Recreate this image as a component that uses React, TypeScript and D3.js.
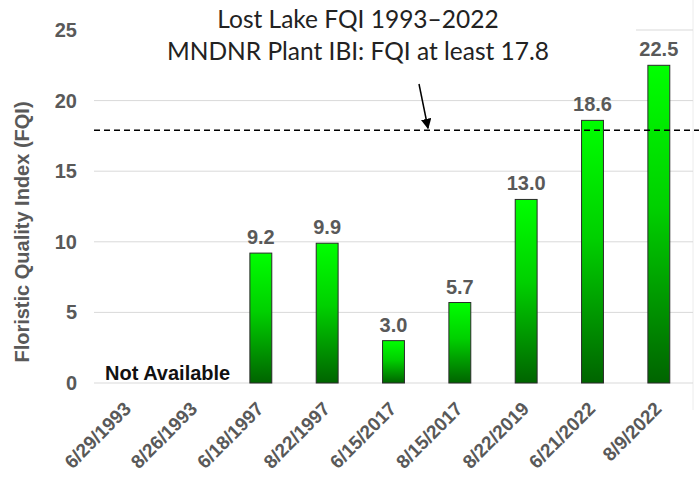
import React from "react";
import * as d3 from "d3";

const categories = ["6/29/1993", "8/26/1993", "6/18/1997", "8/22/1997", "6/15/2017", "8/15/2017", "8/22/2019", "6/21/2022", "8/9/2022"];
const values: (number | null)[] = [null, null, 9.2, 9.9, 3.0, 5.7, 13.0, 18.6, 22.5];
const yTicks = [0, 5, 10, 15, 20, 25];
const threshold = 17.9;
const titleLines = ["Lost Lake FQI 1993\u20132022", "MNDNR Plant IBI: FQI at least 17.8"];

export default function App() {
  const W = 699, H = 477;
  const x = d3.scaleBand<string>().domain(categories).range([95, 692]).paddingInner(0.67).paddingOuter(0.335);
  const band = d3.scaleBand<string>().domain(categories).range([95, 692]);
  const y = d3.scaleLinear().domain([0, 25]).range([383, 30]);
  const gray = "#595959";
  const font = "'Liberation Sans', Arial, sans-serif";
  return (
    <svg width={W} height={H} style={{ position: "absolute", left: 0, top: 0, background: "#fff" }}>
      <defs>
        <linearGradient id="barGrad" x1="0" y1="0" x2="0" y2="1">
          <stop offset="0" stopColor="#00ff00" />
          <stop offset="0.45" stopColor="#00d000" />
          <stop offset="1" stopColor="#006400" />
        </linearGradient>
        <marker id="arrow" viewBox="0 0 10 10" refX="9" refY="5" markerWidth="7" markerHeight="7" orient="auto">
          <path d="M0,0 L10,5 L0,10 z" fill="#000" />
        </marker>
      </defs>
      <line x1={693} x2={693} y1={0} y2={410} stroke="#ececec" strokeWidth={1} />
      {yTicks.map((t) => (
        <g key={t}>
          <line x1={94} x2={693} y1={y(t)} y2={y(t)} stroke="#d9d9d9" strokeWidth={1} />
          <text x={77} y={y(t)} dy="0.35em" textAnchor="end" fontFamily={font} fontWeight="bold" fontSize={20} fill={gray}>{t}</text>
        </g>
      ))}
      <rect x={90} y={0} width={546} height={76} fill="#fff" />
      {titleLines.map((s, i) => (
        <text key={i} x={358} y={28 + i * 32} textAnchor="middle" fontFamily="Lato, 'Open Sans', sans-serif" fontSize={24.5} fill="#222">{s}</text>
      ))}
      {categories.map((c, i) => {
        const v = values[i];
        if (v == null) return null;
        const bx = x(c)!;
        return (
          <g key={c}>
            <rect x={bx} y={y(v)} width={x.bandwidth()} height={y(0) - y(v)} fill="url(#barGrad)" stroke="#2a2a2a" strokeWidth={1} />
            <text x={bx + x.bandwidth() / 2} y={y(v) - 9} textAnchor="middle" fontFamily={font} fontWeight="bold" fontSize={20} fill={gray}>{v.toFixed(1)}</text>
          </g>
        );
      })}
      <line x1={94} x2={699} y1={y(threshold)} y2={y(threshold)} stroke="#000" strokeWidth={1.5} strokeDasharray="6,4" />
      <line x1={419} y1={84} x2={428} y2={y(threshold) - 2} stroke="#000" strokeWidth={1.5} markerEnd="url(#arrow)" />
      <text x={105} y={380} fontFamily={font} fontWeight="bold" fontSize={20} fill="#111">Not Available</text>
      {categories.map((c) => {
        const cx = band(c)! + band.bandwidth() / 2 + 4;
        return (
          <text key={c} transform={`translate(${cx},${410}) rotate(-45)`} textAnchor="end" fontFamily={font} fontWeight="bold" fontSize={19} fill={gray}>{c}</text>
        );
      })}
      <text transform={`translate(29,232) rotate(-90)`} textAnchor="middle" fontFamily={font} fontWeight="bold" fontSize={20} fill={gray}>Floristic Quality Index (FQI)</text>
    </svg>
  );
}
